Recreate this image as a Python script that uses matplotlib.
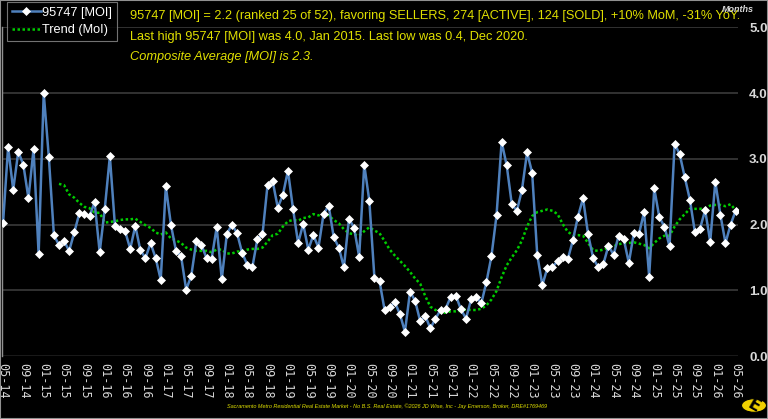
import numpy as np
import matplotlib
matplotlib.use("Agg")
import matplotlib.pyplot as plt
from matplotlib.patches import Circle, Rectangle

# monthly MOI, 05-2014 .. 05-2026
moi = [
    2.02, 3.18, 2.53, 3.11, 2.91, 2.40, 3.15, 1.55, 4.00, 3.03, 1.84, 1.69,
    1.75, 1.60, 1.88, 2.17, 2.16, 2.13, 2.34, 1.58, 2.24, 3.04, 1.98, 1.94,
    1.90, 1.63, 1.98, 1.61, 1.49, 1.72, 1.49, 1.16, 2.58, 2.00, 1.60, 1.52,
    1.01, 1.22, 1.75, 1.69, 1.49, 1.48, 1.96, 1.17, 1.86, 2.00, 1.87, 1.57,
    1.39, 1.35, 1.78, 1.85, 2.61, 2.66, 2.26, 2.45, 2.82, 2.24, 1.72, 2.01,
    1.62, 1.84, 1.65, 2.16, 2.29, 1.81, 1.65, 1.35, 2.09, 1.95, 1.51, 2.91,
    2.36, 1.19, 1.14, 0.70, 0.74, 0.82, 0.64, 0.37, 0.98, 0.84, 0.53, 0.61,
    0.42, 0.57, 0.70, 0.72, 0.90, 0.92, 0.71, 0.57, 0.86, 0.90, 0.80, 1.12,
    1.52, 2.14, 3.26, 2.90, 2.31, 2.21, 2.53, 3.10, 2.79, 1.54, 1.08, 1.34,
    1.35, 1.45, 1.51, 1.47, 1.76, 2.12, 2.40, 1.85, 1.49, 1.35, 1.40, 1.68,
    1.54, 1.83, 1.78, 1.42, 1.87, 1.86, 2.19, 1.21, 2.55, 2.11, 1.97, 1.67,
    3.23, 3.07, 2.72, 2.38, 1.88, 1.94, 2.22, 1.74, 2.65, 2.15, 1.72, 2.00,
    2.21,
]

# trend line starts at 04-2015
trend_start = 11
trend = [
    2.62, 2.60, 2.46, 2.41, 2.33, 2.27, 2.25, 2.18, 2.18, 2.03, 2.04, 2.05,
    2.07, 2.08, 2.08, 2.09, 2.04, 1.99, 1.95, 1.88, 1.85, 1.88, 1.79, 1.76,
    1.72, 1.65, 1.62, 1.60, 1.60, 1.60, 1.58, 1.62, 1.62, 1.56, 1.56, 1.59,
    1.59, 1.62, 1.63, 1.63, 1.65, 1.74, 1.84, 1.86, 1.97, 2.05, 2.07, 2.06,
    2.10, 2.11, 2.16, 2.14, 2.17, 2.14, 2.07, 2.02, 1.93, 1.87, 1.85, 1.83,
    1.90, 1.96, 1.91, 1.87, 1.75, 1.62, 1.53, 1.45, 1.37, 1.28, 1.18, 1.10,
    0.91, 0.75, 0.70, 0.66, 0.66, 0.68, 0.68, 0.69, 0.71, 0.70, 0.70, 0.72,
    0.77, 0.86, 0.99, 1.20, 1.38, 1.50, 1.61, 1.76, 1.97, 2.13, 2.19, 2.21,
    2.23, 2.21, 2.16, 2.01, 1.89, 1.84, 1.84, 1.83, 1.72, 1.61, 1.60, 1.62,
    1.65, 1.67, 1.70, 1.72, 1.72, 1.73, 1.71, 1.69, 1.64, 1.72, 1.79, 1.83,
    1.83, 1.97, 2.08, 2.16, 2.24, 2.24, 2.24, 2.25, 2.29, 2.30, 2.30, 2.28,
    2.31, 2.22,
]

tick_labels = [
    "05-14", "09-14", "01-15", "05-15", "09-15", "01-16", "05-16", "09-16",
    "01-17", "05-17", "09-17", "01-18", "05-18", "09-18", "01-19", "05-19",
    "09-19", "01-20", "05-20", "09-20", "01-21", "05-21", "09-21", "01-22",
    "05-22", "09-22", "01-23", "05-23", "09-23", "01-24", "05-24", "09-24",
    "01-25", "05-25", "09-25", "01-26", "05-26",
]

header1 = ("95747 [MOI] = 2.2 (ranked 25 of 52), favoring SELLERS, 274 [ACTIVE], "
           "124 [SOLD], +10% MoM, -31% YoY.")
header2 = "Last high 95747 [MOI] was 4.0, Jan 2015. Last low was 0.4, Dec 2020."
header3 = "Composite Average [MOI] is 2.3."
footer = ("Sacramento Metro Residential Real Estate Market - No B.S. Real Estate, "
          "\u00a92026 JD Wise, Inc - Jay Emerson, Broker, DRE#1769469")

yellow = "#E0E000"

x = np.arange(len(moi))
xt = np.arange(trend_start, trend_start + len(trend))

fig = plt.figure(figsize=(7.68, 4.19), dpi=100, facecolor="black")
ax = fig.add_axes([2 / 768, 63 / 419, 736 / 768, 328.5 / 419])
ax.set_facecolor("black")

for v in [1, 2, 3, 4, 5]:
    ax.axhline(v, color="#3a3a3a", lw=1.2, zorder=0)
ax.axhline(0, color="#808080", lw=1.0, zorder=0)

line1, = ax.plot(x, moi, color="#4F81BD", lw=1.8, marker="D", ms=3.6,
                 mfc="white", mec="white", mew=0.5, zorder=3,
                 label="95747 [MOI]")
line2, = ax.plot(xt, trend, color="#00CC00", lw=1.8, ls=(0, (1, 1)),
                 zorder=2, label="Trend (MoI)")

ax.set_xlim(-0.2, 144.46)
ax.set_ylim(0, 5)
ax.set_xticks(np.arange(0, len(moi), 4))
ax.set_xticklabels(tick_labels, rotation=270, family="DejaVu Sans Mono",
                   fontsize=8.5, color="#d8d8d8")
ax.set_yticks([0, 1, 2, 3, 4, 5])
ax.set_yticklabels(["0.0", "1.0", "2.0", "3.0", "4.0", "5.0"],
                   fontsize=9.5, fontweight="bold", color="#d8d8d8",
                   family="Liberation Sans")
ax.yaxis.tick_right()
ax.tick_params(axis="both", length=0)
ax.tick_params(axis="y", pad=8)
ax.tick_params(axis="x", pad=5)
for s in ["top", "right", "bottom"]:
    ax.spines[s].set_visible(False)
ax.spines["left"].set_color("#909090")
ax.spines["left"].set_linewidth(1.0)

leg = fig.legend(handles=[line1, line2], loc="upper left",
                 bbox_to_anchor=(6.5 / 768, 1 - 1.5 / 419),
                 frameon=True, facecolor="black", edgecolor="#909090",
                 fancybox=False, handlelength=2.3, handletextpad=0.1,
                 borderpad=0.4, labelspacing=0.45, borderaxespad=0,
                 prop={"family": "Liberation Sans", "size": 9.2})
leg.get_frame().set_linewidth(0.8)
for t in leg.get_texts():
    t.set_color("white")

fig.text(130 / 768, 1 - 16 / 419, header1, color=yellow, fontsize=9.2,
         family="Liberation Sans", va="center", ha="left")
fig.text(130 / 768, 1 - 37 / 419, header2, color=yellow, fontsize=9.2,
         family="Liberation Sans", va="center", ha="left")
fig.text(130 / 768, 1 - 57 / 419, header3, color=yellow, fontsize=9.2,
         family="Liberation Sans", style="italic", va="center", ha="left")
fig.text(738 / 768, 1 - 10 / 419, "Months", color="#d8d8d8", fontsize=6.5,
         family="Liberation Sans", style="italic", fontweight="bold",
         va="center", ha="center")

fig.text(387 / 768, 1 - 406 / 419, footer, color=yellow, fontsize=4,
         family="Liberation Sans", style="italic", va="center", ha="center")

# logo
logo = Circle((754 / 768, 1 - 405.5 / 419), 12.5 / 768, transform=fig.transFigure,
              facecolor="#F0D000", edgecolor="black", lw=0.8)
fig.patches.append(logo)
fig.text(754 / 768, 1 - 405.5 / 419, "E", color="black", fontsize=12,
         fontweight="bold", family="DejaVu Sans", rotation=-30,
         va="center", ha="center")

border = Rectangle((0, 0), 1, 1, transform=fig.transFigure, fill=False,
                   edgecolor="#909090", lw=1.5)
fig.patches.append(border)

fig.savefig("out.png", dpi=100, facecolor="black")
